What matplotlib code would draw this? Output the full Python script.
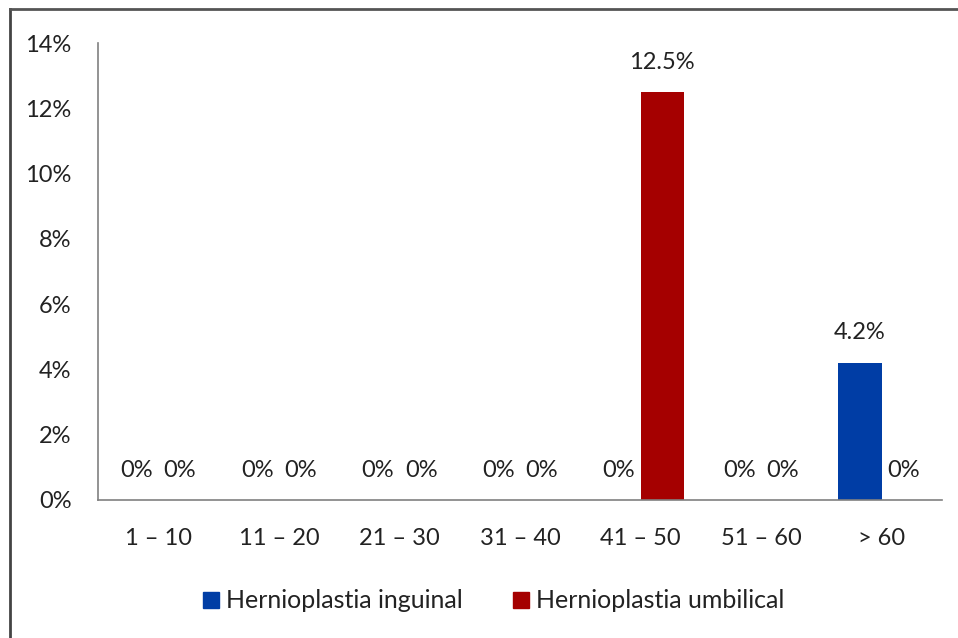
import matplotlib
matplotlib.use("Agg")
import matplotlib.pyplot as plt
import numpy as np
from matplotlib.patches import Patch
from matplotlib.lines import Line2D

categories = ["1 – 10", "11 – 20", "21 – 30", "31 – 40", "41 – 50", "51 – 60", "> 60"]
inguinal = [0, 0, 0, 0, 0, 0, 4.2]
umbilical = [0, 0, 0, 0, 12.5, 0, 0]
series_names = ["Hernioplastia inguinal", "Hernioplastia umbilical"]
yticks = [0, 2, 4, 6, 8, 10, 12, 14]

blue = "#003DA5"
red = "#A50000"

plt.rcParams['font.family'] = ['Lato', 'DejaVu Sans']
FS = 17

fig = plt.figure(figsize=(9.58, 6.38), dpi=100)
ax = fig.add_axes([98/958, 1 - 500/638, (942-98)/958, (500-43)/638])

x = np.arange(len(categories))
w = 0.36
b1 = ax.bar(x - w/2, inguinal, w, color=blue, label=series_names[0])
b2 = ax.bar(x + w/2, umbilical, w, color=red, label=series_names[1])

def fmt(v):
    return "0%" if v == 0 else f"{v:.1f}%"

for bars, vals in ((b1, inguinal), (b2, umbilical)):
    for rect, v in zip(bars, vals):
        ax.annotate(fmt(v), (rect.get_x() + rect.get_width()/2, v),
                    xytext=(0, 14), textcoords="offset points",
                    ha="center", va="bottom", fontsize=FS, color="#222222")

ax.set_xlim(-0.5, len(categories) - 0.5)
ax.set_ylim(0, 14)
ax.set_yticks(yticks)
ax.set_yticklabels([f"{t}%" for t in yticks], fontsize=FS, color="#222222")
ax.set_xticks(x)
ax.set_xticklabels(categories, fontsize=FS, color="#222222")
ax.tick_params(axis="both", length=0)
ax.tick_params(axis="y", pad=19)
ax.tick_params(axis="x", pad=20)
for s in ("top", "right"):
    ax.spines[s].set_visible(False)
for s in ("left", "bottom"):
    ax.spines[s].set_color("#808080")
    ax.spines[s].set_linewidth(1.2)

handles = [Patch(color=blue), Patch(color=red)]
fig.legend(handles, series_names, loc="center", bbox_to_anchor=(494/958, 1 - 601/638),
           ncol=2, frameon=False, fontsize=18, handlelength=0.62, handleheight=0.62,
           handletextpad=0.3, columnspacing=2.0, labelcolor="#222222")

# outer chart border (left and top edges visible)
fig.add_artist(Line2D([10/958, 10/958], [0, 1 - 9/638], transform=fig.transFigure, color="#444444", lw=2))
fig.add_artist(Line2D([10/958, 1], [1 - 9/638, 1 - 9/638], transform=fig.transFigure, color="#555555", lw=2))

fig.savefig("out.png", dpi=100, facecolor="white")
